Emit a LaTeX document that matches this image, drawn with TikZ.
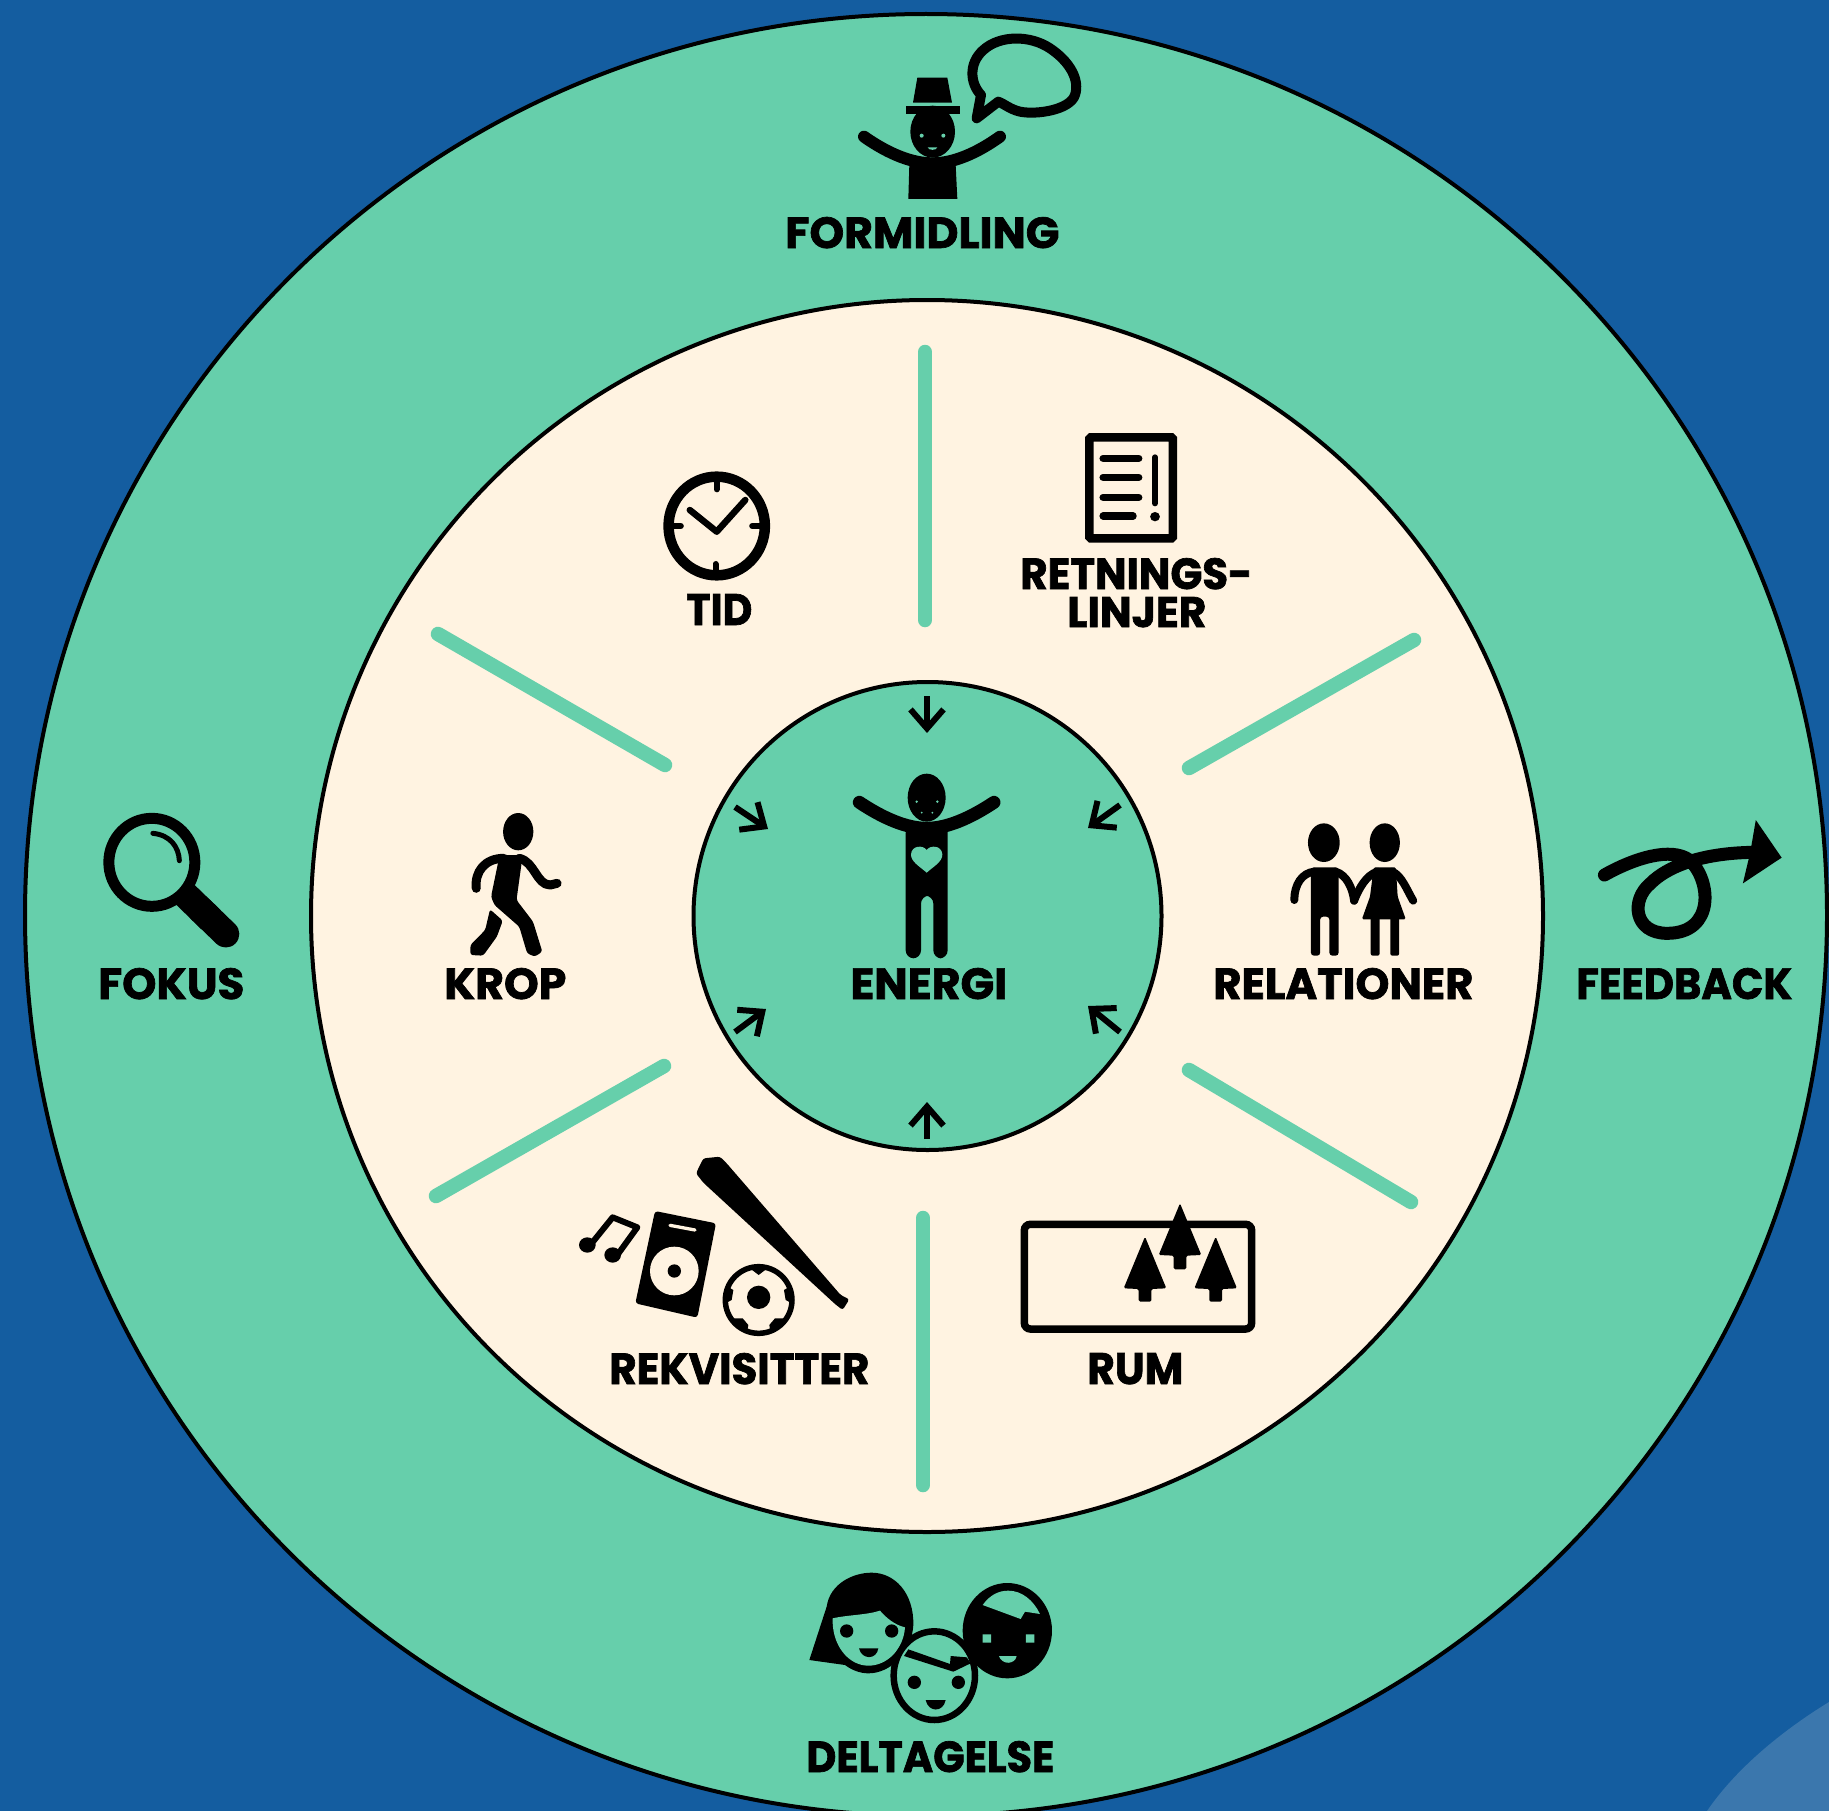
\documentclass[tikz,border=0pt]{standalone}
\usepackage{graphicx}
\usepackage{fontspec}
\setmainfont{Poppins}[BoldFeatures={FakeBold=1.6}]
\usetikzlibrary{arrows.meta}
\definecolor{bgblue}{HTML}{145DA0}
\definecolor{bglight}{HTML}{3B77AD}
\definecolor{teal}{HTML}{66CFAB}
\definecolor{cream}{HTML}{FFF3E1}
\tikzset{
  ring/.style={draw=black,line width=0.08cm},
  spoke/.style={draw=teal,line width=0.29cm,line cap=round},
  inarrow/.style={draw=black,line width=0.12cm,-{Straight Barb[length=0.38cm,width=0.66cm,line width=0.12cm]}},
  lab/.style={inner sep=0pt,anchor=base west,text=black},
  pxw/.style={line width=#1*0.02cm},
  ink/.style={fill=black,draw=none},
  stroke/.style={draw=black,line cap=round,line join=round,fill=none},
  za/.style={x=0.00666667cm,y=-0.00666667cm},
  zr/.style={x=0.007386cm,y=-0.00666667cm},
  zf/.style={x=0.006887cm,y=-0.00666667cm},
  zt/.style={x=0.008163cm,y=-0.00666667cm},
}
\newcommand\diaglabel[6]{%
  \pgfmathsetlengthmacro\labw{(#4-#2)*0.02cm}%
  \pgfmathsetlengthmacro\labh{(#5-#3)*0.02cm}%
  \node[lab] (#1) at (#2,#5) {\resizebox{\labw}{\labh}{\bfseries #6}};}
\newcommand\treeicon[3]{% apex x, apex y, trunk bottom
  \fill[black,rounded corners=0.03cm] (#1,#2) -- (#1+64,#2+155) -- (#1+19,#2+157) -- (#1+19,#3) -- (#1-19,#3) -- (#1-19,#2+157) -- (#1-64,#2+155) -- cycle;}
\begin{document}
\begin{tikzpicture}[x=0.02cm,y=-0.02cm]
\useasboundingbox (0,0) rectangle (1829,1811);
\clip (0,0) rectangle (1829,1811);
\fill[bgblue] (0,0) rectangle (1829,1811);
\fill[bglight] (1707,1811) .. controls (1735,1770) and (1780,1732) .. (1829,1702) -- (1829,1811) -- cycle;
% rings
\fill[teal] (926,915) circle[radius=901];
\draw[ring] (926,915) circle[radius=901];
\fill[cream] (927,916) circle[radius=616];
\draw[ring] (927,916) circle[radius=616];
\fill[teal] (927.5,916) circle[radius=234];
\draw[ring] (927.5,916) circle[radius=234];
% spokes
\draw[spoke] (925,352) -- (925,620);
\draw[spoke] (923,1218) -- (923,1485);
\draw[spoke] (438,634) -- (665,765);
\draw[spoke] (1414,640) -- (1189,768);
\draw[spoke] (1189,1070) -- (1411,1202);
\draw[spoke] (664,1066) -- (436,1196);
% centre arrows
\coordinate (a1s) at (927,696); \coordinate (a1e) at (927,733);
\coordinate (a2s) at (927,1139); \coordinate (a2e) at (927,1102);
\coordinate (a3s) at (735,807); \coordinate (a3e) at (768,829);
\coordinate (a4s) at (1120,805); \coordinate (a4e) at (1088,828);
\coordinate (a5s) at (735,1032); \coordinate (a5e) at (766,1009);
\coordinate (a6s) at (1120,1032); \coordinate (a6e) at (1088,1006);
\foreach \i in {1,...,6} {\draw[inarrow] (a\i s) -- (a\i e);}
% labels
\diaglabel{formidling}{785}{217}{1059}{248}{FORMIDLING}
\diaglabel{deltagelse}{806}{1741}{1054}{1772}{DELTAGELSE}
\diaglabel{rekvisitter}{609}{1353}{869}{1384}{REKVISITTER}
\diaglabel{rum}{1087}{1353}{1183}{1384}{RUM}
\diaglabel{energi}{850}{968}{1007}{999}{ENERGI}
\diaglabel{relationer}{1213}{968}{1473}{999}{RELATIONER}
\diaglabel{feedback}{1576}{968}{1792}{999}{FEEDBACK}
\diaglabel{fokus}{98}{968}{244}{999}{FOKUS}
\diaglabel{krop}{444}{968}{566}{999}{KROP}
\diaglabel{tid}{686}{594}{752}{625}{TID}
\diaglabel{retnings}{1020}{558}{1252}{589}{RETNINGS-}
\diaglabel{linjer}{1067}{597}{1206}{627}{LINJER}
% FORMIDLING icon
\begin{scope}[shift={(780,0)},za]
  \fill[black] (412,233) -- (502,233) -- (516,308) -- (399,308) -- cycle;
  \fill[black] (377,317) rectangle (539,342);
  \fill[black] (458,395) ellipse[x radius=67,y radius=78];
  \fill[teal] (425,407) circle[radius=6] (490,407) circle[radius=6];
  \fill[teal] (443,442) -- (472,442) .. controls (470,452) and (445,452) .. (443,442) -- cycle;
  \draw[stroke,pxw=12] (252,410) .. controls (330,465) and (400,490) .. (457,490) .. controls (520,490) and (590,460) .. (660,410);
  \fill[black] (388,495) -- (527,495) -- (532,597) -- (385,597) -- cycle;
  \draw[stroke,pxw=10] (590,355) -- (603,285) .. controls (570,250) and (565,190) .. (610,150) .. controls (660,105) and (750,105) .. (810,145) .. controls (870,185) and (900,240) .. (885,285) .. controls (870,330) and (770,345) .. (720,335) .. controls (690,328) and (670,310) .. (655,305) -- cycle;
\end{scope}
% DELTAGELSE icon
\begin{scope}[shift={(780,1550)},za]
  \fill[black] (88,330) -- (140,170) .. controls (150,100) and (220,68) .. (275,68) .. controls (345,68) and (402,130) .. (400,225) .. controls (395,310) and (330,370) .. (265,370) .. controls (240,370) and (215,360) .. (195,345) -- cycle;
  \fill[teal] (158,205) .. controls (200,195) and (260,195) .. (300,182) .. controls (320,205) and (345,225) .. (375,232) .. controls (370,300) and (320,347) .. (265,347) .. controls (205,347) and (155,285) .. (158,205) -- cycle;
  \fill[black] (200,243) circle[radius=20] (335,243) circle[radius=20];
  \fill[black] (237,295) -- (295,295) .. controls (290,330) and (245,330) .. (237,295) -- cycle;
  \fill[black] (682,242) ellipse[x radius=134,y radius=143];
  \fill[teal] (608,165) .. controls (630,135) and (655,122) .. (685,122) .. controls (725,122) and (760,150) .. (780,192) -- (735,185) -- (722,207) -- cycle;
  \fill[teal] (608,253) rectangle (633,278) (738,253) rectangle (763,278);
  \fill[teal] (657,318) -- (710,318) .. controls (705,345) and (665,345) .. (657,318) -- cycle;
  \draw[draw=black,fill=teal,pxw=6.5] (463,377) ellipse[x radius=122,y radius=133];
  \fill[black] (372,318) -- (385,298) -- (510,342) -- (512,318) -- (560,322) -- (572,340) -- (520,365) -- cycle;
  \fill[black] (403,397) circle[radius=20] (535,397) circle[radius=20];
  \fill[black] (437,450) -- (497,450) .. controls (490,488) and (445,488) .. (437,450) -- cycle;
\end{scope}
% REKVISITTER icon
\begin{scope}[shift={(560,1140)},za]
  \fill[black] (82,315) ellipse[x radius=25,y radius=23] (158,345) ellipse[x radius=25,y radius=23];
  \draw[stroke,pxw=6] (95,310) -- (158,232) -- (232,262) -- (172,345);
  \fill[black,rounded corners=0.06cm] (285,213) -- (468,250) -- (412,533) -- (226,490) -- cycle;
  \fill[cream] (343,393) circle[radius=73];
  \fill[black] (343,393) circle[radius=20];
  \draw[draw=cream,line cap=round,pxw=3.3] (330,256) -- (405,270);
  \begin{scope}
    \clip (596,480) circle[radius=105];
    \fill[black] (570,385) -- (622,385) -- (596,405) -- cycle;
    \fill[black] (495,435) -- (520,450) -- (515,480) -- (500,488) -- cycle;
    \fill[black] (697,435) -- (672,450) -- (677,480) -- (692,488) -- cycle;
    \fill[black] (518,535) -- (548,535) -- (565,555) -- (560,585) -- cycle;
    \fill[black] (675,535) -- (645,535) -- (628,555) -- (633,585) -- cycle;
  \end{scope}
  \draw[draw=black,pxw=5.5] (596,480) circle[radius=100];
  \fill[black] (596,472) circle[radius=35];
  \fill[black,rounded corners=0.05cm] (408,100) -- (430,55) -- (480,50) -- (500,70) -- (842,465) -- (868,478) -- (848,510) -- (825,492) -- (430,128) -- cycle;
\end{scope}
% RUM icon
\begin{scope}[shift={(1000,1180)},za]
  \draw[draw=black,pxw=7.5,rounded corners=0.12cm] (73,133) rectangle (755,447);
  \treeicon{435}{170}{365}
  \treeicon{540}{70}{268}
  \treeicon{647}{170}{365}
\end{scope}
% ENERGI icon
\begin{scope}[shift={(820,750)},za]
  \fill[black] (320,143) ellipse[x radius=57,y radius=72];
  \fill[teal] (290,155) circle[radius=4] (352,155) circle[radius=4] (305,188) circle[radius=3] (337,188) circle[radius=3];
  \draw[stroke,pxw=13] (118,157) .. controls (190,205) and (260,235) .. (320,235) .. controls (380,235) and (450,205) .. (522,157);
  \fill[black,rounded corners=0.16cm] (257,225) -- (257,625) -- (303,625) -- (303,437) -- (340,437) -- (340,625) -- (383,625) -- (383,225) -- cycle;
  \fill[black] (262,225) rectangle (378,300);
  \fill[teal] (320,368) .. controls (300,350) and (272,335) .. (273,313) .. controls (275,285) and (310,285) .. (320,300) .. controls (330,285) and (365,285) .. (367,313) .. controls (368,335) and (340,350) .. (320,368) -- cycle;
\end{scope}
% RELATIONER + FEEDBACK icons
\begin{scope}[shift={(1250,790)},zr]
  \fill[black] (200,158) ellipse[x radius=43,y radius=58] (365,158) ellipse[x radius=41,y radius=58];
  \fill[black,rounded corners=0.06cm] (165,232) -- (240,232) -- (240,497) -- (215,497) -- (215,380) -- (190,380) -- (190,497) -- (165,497) -- cycle;
  \draw[stroke,pxw=8] (120,330) .. controls (120,285) and (140,248) .. (175,245);
  \draw[stroke,pxw=8] (232,245) .. controls (262,255) and (278,295) .. (282,332);
  \fill[black,rounded corners=0.03cm] (335,232) -- (395,232) -- (400,320) -- (422,388) -- (303,388) -- (325,320) -- cycle;
  \draw[stroke,pxw=8] (345,245) .. controls (315,255) and (295,295) .. (282,332);
  \draw[stroke,pxw=8] (385,245) .. controls (410,255) and (425,300) .. (442,332);
  \fill[black,rounded corners=0.04cm] (327,380) rectangle (351,497);
  \fill[black,rounded corners=0.04cm] (380,380) rectangle (404,497);
  \draw[stroke,pxw=13] (960,255) .. controls (1040,205) and (1140,170) .. (1190,210) .. controls (1250,270) and (1260,430) .. (1130,430) .. controls (1040,430) and (1030,330) .. (1085,280) .. controls (1130,230) and (1220,190) .. (1360,187);
  \fill[black] (1370,90) -- (1440,203) -- (1335,280) -- (1355,187) -- cycle;
\end{scope}
% FOKUS + KROP icons
\begin{scope}[shift={(60,790)},zf]
  \draw[draw=black,pxw=11] (267,217) ellipse[x radius=125,y radius=132];
  \draw[stroke,pxw=5] (270,130) .. controls (320,135) and (345,170) .. (347,212);
  \draw[draw=black,pxw=27] (362,312) -- (440,390);
  \draw[stroke,pxw=27] (410,360) -- (482,432);
  \fill[black] (1332,125) ellipse[x radius=44,y radius=56];
  \draw[stroke,pxw=9] (1210,295) .. controls (1205,245) and (1235,205) .. (1290,205);
  \draw[stroke,pxw=9] (1335,205) .. controls (1380,215) and (1385,285) .. (1425,285) -- (1445,280);
  \fill[black,rounded corners=0.05cm] (1278,195) -- (1345,195) -- (1327,330) -- (1375,395) -- (1402,485) -- (1380,500) -- (1358,490) -- (1335,410) -- (1263,345) -- (1253,320) -- cycle;
  \fill[black,rounded corners=0.05cm] (1250,358) -- (1287,392) -- (1270,440) -- (1230,497) -- (1193,495) -- (1193,465) -- (1236,420) -- cycle;
\end{scope}
% TID + RETNINGSLINJER icons
\begin{scope}[shift={(640,420)},zt]
  \draw[draw=black,pxw=10.5] (188,318) ellipse[x radius=118,y radius=148];
  \draw[stroke,pxw=6] (188,185) -- (188,208) (185,432) -- (185,455) (78,318) -- (100,318) (275,318) -- (298,318);
  \draw[stroke,pxw=6.5] (122,270) -- (188,335) -- (258,240);
  \draw[draw=black,pxw=8.5,rounded corners=0.03cm] (1101,52) rectangle (1306,355);
  \draw[stroke,pxw=7.5] (1135,115) -- (1222,115) (1135,172) -- (1222,172) (1135,232) -- (1222,232) (1135,288) -- (1208,288);
  \draw[stroke,pxw=6] (1262,112) -- (1262,250);
  \fill[black] (1262,290) ellipse[x radius=12,y radius=14];
\end{scope}
\end{tikzpicture}
\end{document}
